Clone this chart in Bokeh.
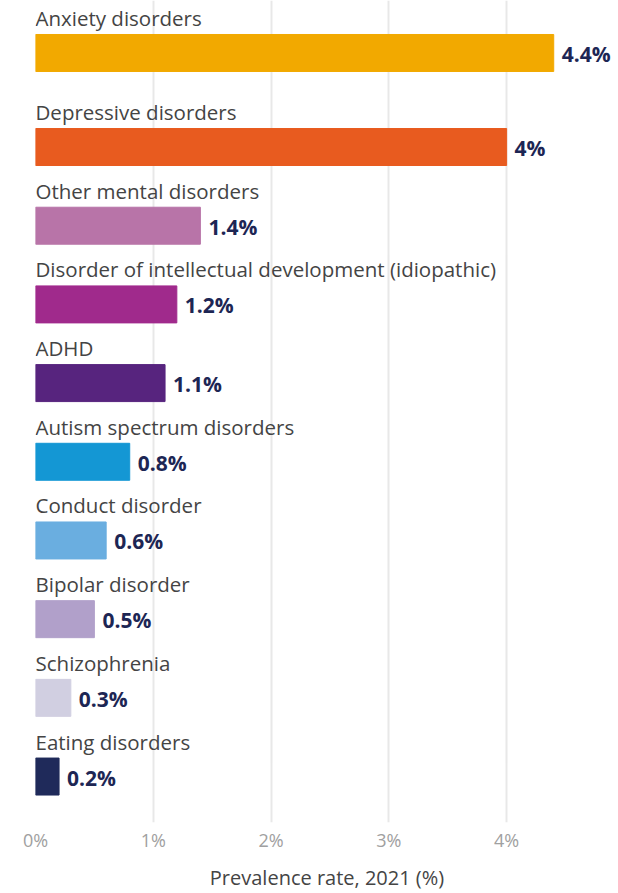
from bokeh.plotting import figure
from bokeh.models import Range1d, ColumnDataSource, FixedTicker, CustomJSTickFormatter
from bokeh.core.properties import value
from bokeh.embed import file_html
from bokeh.resources import INLINE

categories = ["Anxiety disorders", "Depressive disorders", "Other mental disorders",
              "Disorder of intellectual development (idiopathic)", "ADHD",
              "Autism spectrum disorders", "Conduct disorder", "Bipolar disorder",
              "Schizophrenia", "Eating disorders"]
values = [4.4, 4.0, 1.4, 1.2, 1.1, 0.8, 0.6, 0.5, 0.3, 0.2]
value_labels = ["4.4%", "4%", "1.4%", "1.2%", "1.1%", "0.8%", "0.6%", "0.5%", "0.3%", "0.2%"]
colors = ["#F2A900", "#E85B1F", "#B874A8", "#A02A8C", "#57247E",
          "#1497D4", "#6AAEE0", "#B1A0CA", "#D1CFE1", "#1F2A5A"]
x_ticks = [0, 1, 2, 3, 4]
x_title = "Prevalence rate, 2021 (%)"

FONT = "Open Sans"
FIRST_ROW_EXTRA_GAP = 0.195  # layout: the reference leaves extra space after the first row
rows = [i + (FIRST_ROW_EXTRA_GAP if i > 0 else 0) for i in range(len(categories))]
src = ColumnDataSource(dict(y=rows, v=values, cat=categories, lab=value_labels, col=colors))

p = figure(frame_width=583, frame_height=822, output_backend="svg", toolbar_location=None,
           x_range=Range1d(0, 4.95), y_range=Range1d(9.779, -0.667),
           min_border_left=35, min_border_right=0, min_border_top=0, min_border_bottom=0)
p.outline_line_color = None
p.background_fill_color = "white"
p.border_fill_color = "white"

p.hbar(y="y", right="v", left=0, height=0.47, color="col", source=src)

p.text(x=0, y="y", text="cat", source=src, y_offset=-35, text_baseline="middle",
       text_align="left", text_font=value(FONT), text_font_size="20.5px", text_color="#444444")
p.text(x="v", y="y", text="lab", source=src, x_offset=8, y_offset=1, text_baseline="middle",
       text_align="left", text_font=value(FONT), text_font_size="21px",
       text_font_style="bold", text_color="#1D2654")

p.yaxis.visible = False
p.ygrid.grid_line_color = None
p.xgrid.grid_line_color = "#e8e8e8"
p.xgrid.grid_line_width = 2

xa = p.xaxis[0]
xa.ticker = FixedTicker(ticks=x_ticks)
xa.formatter = CustomJSTickFormatter(code="return tick + '%';")
xa.axis_line_color = None
xa.major_tick_line_color = None
xa.minor_tick_line_color = None
xa.major_tick_out = 0
xa.major_tick_in = 0
xa.major_label_standoff = 5
xa.major_label_text_font = FONT
xa.major_label_text_font_size = "18px"
xa.major_label_text_color = "#a0a0a0"
xa.axis_label = x_title
xa.axis_label_text_font = FONT
xa.axis_label_text_font_style = "normal"
xa.axis_label_text_font_size = "20px"
xa.axis_label_text_color = "#444444"
xa.axis_label_standoff = 9

open("out.html", "w").write(file_html(p, INLINE))
